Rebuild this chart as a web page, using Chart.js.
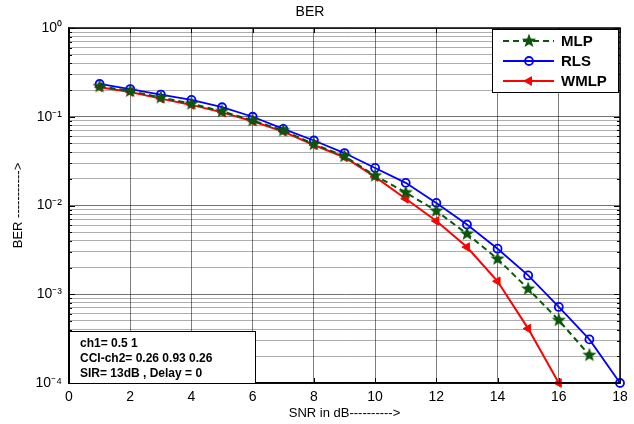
<!DOCTYPE html>
<html>
<head>
<meta charset="utf-8">
<script src="https://cdn.jsdelivr.net/npm/chart.js@4.4.1/dist/chart.umd.min.js"></script>
<style>
  html, body { margin: 0; padding: 0; background: #fff; }
  #wrap { width: 634px; height: 424px; }
</style>
</head>
<body>
<div id="wrap"><canvas id="ber"></canvas></div>
<script>
// SNR values (dB)
const snr = [1, 2, 3, 4, 5, 6, 7, 8, 9, 10, 11, 12, 13, 14, 15, 16, 17, 18];
// BER
const mlp = [0.22, 0.195, 0.165, 0.14, 0.115, 0.091, 0.07, 0.049, 0.036, 0.0217, 0.014, 0.0087, 0.0048, 0.0025, 0.00115, 0.00051, 0.000206];
const rls = [0.234, 0.205, 0.178, 0.155, 0.128, 0.10, 0.073, 0.054, 0.039, 0.0265, 0.018, 0.0107, 0.0061, 0.00326, 0.00163, 0.00072, 0.00031, 0.0001];
const wmlp = [0.215, 0.19, 0.16, 0.136, 0.112, 0.089, 0.068, 0.048, 0.035, 0.021, 0.0119, 0.0067, 0.0034, 0.0014, 0.00041, 0.0001];

const xTicks = [0, 2, 4, 6, 8, 10, 12, 14, 16, 18];
const decades = [-4, -3, -2, -1, 0];
const supers = {'0': '\u2070', '1': '\u00b9', '2': '\u00b2', '3': '\u00b3', '4': '\u2074', '-': '\u207b'};

const noteLines = ['ch1= 0.5 1', 'CCI-ch2= 0.26 0.93 0.26', 'SIR= 13dB , Delay = 0'];

const FONT = 'Arial, "Liberation Sans", sans-serif';
const GREEN = '#0b560b';

function toPoints(arr) {
    return arr.map((v, i) => ({x: snr[i], y: v}));
}

// filled pentagram marker
function makeStar(size, color) {
    const c = document.createElement('canvas');
    c.width = size; c.height = size;
    const g = c.getContext('2d');
    const cx = size / 2, cy = size / 2, ro = size / 2 - 0.5, ri = ro * 0.42;
    g.beginPath();
    for (let i = 0; i < 10; i++) {
        const r = i % 2 ? ri : ro;
        const a = -Math.PI / 2 + i * Math.PI / 5;
        g.lineTo(cx + r * Math.cos(a), cy + r * Math.sin(a));
    }
    g.closePath();
    g.fillStyle = color;
    g.fill();
    return c;
}
const star = makeStar(16, GREEN);

// y grid at 1..9 x 10^n
const yTickValues = [];
decades.forEach(e => {
    if (e === 0) { yTickValues.push(1); return; }
    for (let m = 1; m <= 9; m++) yTickValues.push(+(m * Math.pow(10, e)).toPrecision(3));
});

const boxPlugin = {
    id: 'boxPlugin',
    afterDraw(chart) {
        const ctx = chart.ctx;
        const a = chart.chartArea;
        const ys = chart.scales.y, xs = chart.scales.x;
        ctx.save();
        // inner tick marks
        ctx.strokeStyle = '#000';
        ctx.lineWidth = 1;
        ctx.beginPath();
        ys.ticks.forEach(t => {
            const py = Math.round(ys.getPixelForValue(t.value)) + 0.5;
            const len = t.major ? 6 : 3;
            ctx.moveTo(a.left, py); ctx.lineTo(a.left + len, py);
            ctx.moveTo(a.right, py); ctx.lineTo(a.right - len, py);
        });
        xs.ticks.forEach(t => {
            const px = Math.round(xs.getPixelForValue(t.value)) + 0.5;
            ctx.moveTo(px, a.bottom); ctx.lineTo(px, a.bottom - 5);
            ctx.moveTo(px, a.top); ctx.lineTo(px, a.top + 5);
        });
        ctx.stroke();
        // axes box
        ctx.lineWidth = 1.5;
        ctx.strokeRect(a.left, a.top, a.right - a.left, a.bottom - a.top);

        // annotation box
        const bx = a.left, by = a.bottom - 52, bw = 186, bh = 52;
        ctx.fillStyle = '#fff';
        ctx.fillRect(bx, by, bw, bh);
        ctx.lineWidth = 1;
        ctx.strokeStyle = '#000';
        ctx.strokeRect(bx + 0.5, by + 0.5, bw, bh);
        ctx.fillStyle = '#000';
        ctx.font = 'bold 12px ' + FONT;
        ctx.textBaseline = 'middle';
        ctx.textAlign = 'left';
        noteLines.forEach((s, i) => ctx.fillText(s, bx + 11, by + 13 + i * 15));

        // legend box
        const lx = 492, ly = 29, lw = 126, lh = 63;
        ctx.fillStyle = '#fff';
        ctx.fillRect(lx, ly, lw, lh);
        ctx.strokeStyle = '#000';
        ctx.strokeRect(lx + 0.5, ly + 0.5, lw, lh);
        chart.data.datasets.forEach((ds, i) => {
            const yy = ly + 12 + i * 20;
            ctx.strokeStyle = ds.borderColor;
            ctx.lineWidth = ds.borderWidth;
            ctx.setLineDash(ds.borderDash || []);
            ctx.beginPath();
            ctx.moveTo(lx + 11, yy); ctx.lineTo(lx + 62, yy);
            ctx.stroke();
            ctx.setLineDash([]);
            ctx.fillStyle = ds.backgroundColor;
            ctx.strokeStyle = ds.borderColor;
            ctx.lineWidth = ds.pointBorderWidth || ds.borderWidth;
            Chart.helpers.drawPoint(ctx, {
                pointStyle: ds.pointStyle,
                radius: ds.pointRadius,
                rotation: ds.pointRotation || 0,
                borderWidth: ds.pointBorderWidth || ds.borderWidth
            }, lx + 37, yy);
            ctx.fillStyle = '#000';
            ctx.font = 'bold 15px ' + FONT;
            ctx.fillText(ds.label, lx + 69, yy + 1);
        });
        ctx.restore();
    }
};

const ctx = document.getElementById('ber').getContext('2d');
const chart = new Chart(ctx, {
    type: 'line',
    data: {
        datasets: [{
            label: 'MLP',
            data: toPoints(mlp),
            borderColor: GREEN,
            backgroundColor: GREEN,
            borderWidth: 2,
            borderDash: [6, 4],
            pointStyle: star,
            pointRadius: 8,
            clip: 10
        }, {
            label: 'RLS',
            data: toPoints(rls),
            borderColor: '#0000ff',
            backgroundColor: 'rgba(0,0,0,0)',
            borderWidth: 1.8,
            pointStyle: 'circle',
            pointRadius: 4,
            pointBorderWidth: 1.8,
            clip: 10
        }, {
            label: 'WMLP',
            data: toPoints(wmlp),
            borderColor: '#ff0000',
            backgroundColor: '#ff0000',
            borderWidth: 2,
            pointStyle: 'triangle',
            pointRotation: -90,
            pointRadius: 5,
            pointBorderWidth: 1,
            clip: 10
        }]
    },
    options: {
        responsive: true,
        maintainAspectRatio: false,
        animation: false,
        layout: { padding: { left: 0, right: 14, top: 0, bottom: 0 } },
        plugins: {
            legend: { display: false },
            tooltip: { enabled: false },
            title: {
                display: true,
                text: 'BER',
                color: '#000',
                font: { family: FONT, size: 14, weight: 'normal' },
                padding: { top: 4, bottom: 7.2 }
            }
        },
        scales: {
            x: {
                type: 'linear',
                min: 0,
                max: 18,
                afterFit: s => { s.height = 41; },
                afterBuildTicks: s => { s.ticks = xTicks.map(v => ({value: v})); },
                grid: { color: 'rgba(0,0,0,0.5)', drawTicks: false },
                border: { display: true, color: '#000', width: 1.5 },
                ticks: { color: '#000', padding: 6, font: { family: FONT, size: 14 } },
                title: {
                    display: true,
                    text: 'SNR in dB---------->',
                    color: '#000',
                    font: { family: FONT, size: 13 },
                    padding: { top: 0, bottom: 3 }
                }
            },
            y: {
                type: 'logarithmic',
                min: 1e-4,
                max: 1,
                afterFit: s => { s.width = 69; },
                afterBuildTicks: s => {
                    s.ticks = yTickValues.map(v => ({value: v, major: Math.abs(Math.log10(v) - Math.round(Math.log10(v))) < 1e-9}));
                },
                grid: {
                    color: c => c.tick && c.tick.major ? 'rgba(0,0,0,0.55)' : 'rgba(0,0,0,0.32)',
                    drawTicks: false
                },
                border: { display: true, color: '#000', width: 1.5 },
                ticks: {
                    autoSkip: false,
                    color: '#000',
                    padding: 7,
                    font: { family: FONT, size: 14 },
                    callback: function (v) {
                        const e = Math.log10(v);
                        if (Math.abs(e - Math.round(e)) > 1e-9) return '';
                        return '10' + String(Math.round(e)).split('').map(ch => supers[ch]).join('');
                    }
                },
                title: {
                    display: true,
                    text: 'BER ----------->',
                    color: '#000',
                    font: { family: FONT, size: 13 },
                    padding: { top: 11, bottom: 0 }
                }
            }
        }
    },
    plugins: [boxPlugin]
});
</script>
</body>
</html>
